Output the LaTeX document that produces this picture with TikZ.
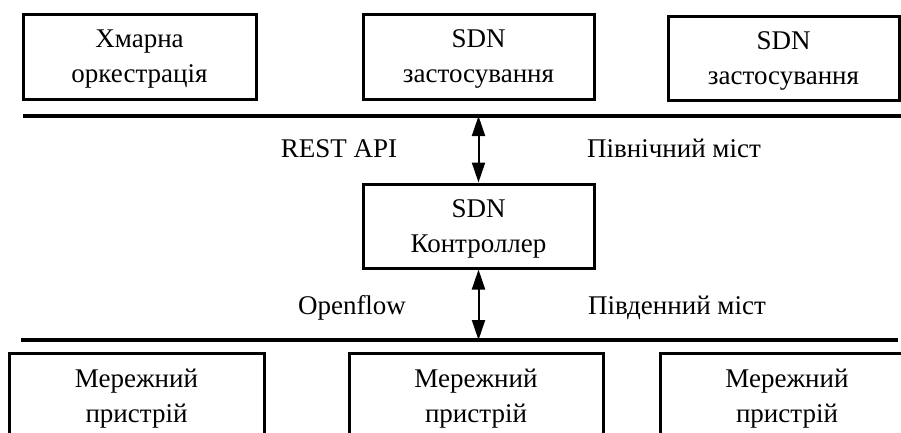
\documentclass[tikz,border=0pt]{standalone}
\usepackage{fontspec}
\setmainfont{Liberation Serif}
\usetikzlibrary{positioning,arrows.meta}

\begin{document}
\begin{tikzpicture}[x=1pt, y=-1pt,
    every node/.style={font=\fontsize{27}{35}\selectfont, align=center},
    blok/.style={draw, line width=3pt, inner sep=0pt, text depth=0pt, minimum height=85pt},
    shyna/.style={line width=3.5pt},
    zvyazok/.style={line width=2pt, {Triangle[length=20pt,width=13pt]}-{Triangle[length=20pt,width=13pt]}}]
    \useasboundingbox (0,0) rectangle (901,432);
    \clip (0,0) rectangle (901,432);
    % upper layer
    \node[blok, minimum width=233pt] (orch) at (139.5,56.5) {Хмарна\\оркестрація};
    \node[blok, minimum width=231pt] (app1) at (478.5,56.5) {SDN\\застосування};
    \node[blok, minimum width=231pt, minimum height=84pt] (app2) at (783.5,58) {SDN\\застосування};
    \coordinate (nl) at (23,116);
    \coordinate (nr) at (901,116);
    \draw[shyna] (nl) -- (nr);
    % controller
    \node[blok, minimum width=231pt, minimum height=84pt] (ctrl) at (478.5,226) {SDN\\Контроллер};
    \node[anchor=base] (rest) at (339,157) {REST API};
    \node[anchor=base] (north) at (674,157) {Північний міст};
    \node[anchor=base] (of) at (352,314) {Openflow};
    \node[anchor=base] (south) at (677,314) {Південний міст};
    \coordinate (sl) at (21,340);
    \coordinate (sr) at (898,340);
    \draw[shyna] (sl) -- (sr);
    \draw[zvyazok] (ctrl.north) -- (ctrl.north |- nl);
    \draw[zvyazok] (ctrl.south) -- (ctrl.south |- sl);
    % devices
    \node[blok, minimum width=255pt, minimum height=86pt] (dev1) at (136.5,396) {Мережний\\пристрій};
    \node[blok, minimum width=254pt, minimum height=86pt] (dev2) at (476,396) {Мережний\\пристрій};
    \node[blok, minimum width=254pt, minimum height=86pt] (dev3) at (787,396) {Мережний\\пристрій};
\end{tikzpicture}
\end{document}
